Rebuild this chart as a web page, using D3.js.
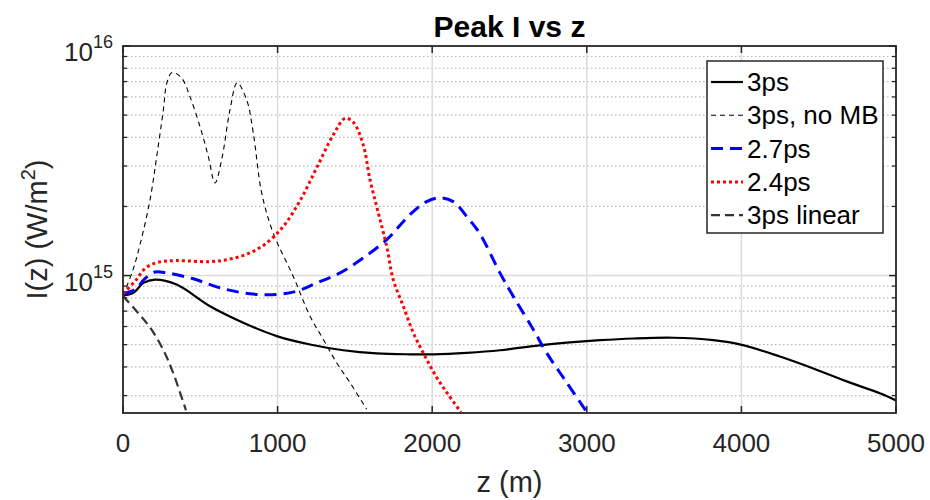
<!DOCTYPE html>
<html>
<head>
<meta charset="utf-8">
<script src="https://cdn.jsdelivr.net/npm/d3@7"></script>
<style>
  body { margin: 0; background: #fff; }
  svg { font-family: "Liberation Sans", Arial, Helvetica, sans-serif; }
</style>
</head>
<body>
<div id="chart"></div>
<script>

// values (z in m, I in W/m^2)
const xTicks = [0, 1000, 2000, 3000, 4000, 5000];
const yTicks = [1e15, 1e16];
const yTickExp = ['15', '16'];

const z_3ps = [0, 67, 132, 207, 347, 563, 778, 994, 1210, 1425, 1641, 1856, 2007, 2223, 2439,
               2654, 2870, 3085, 3301, 3559, 3818, 4002, 4249, 4465, 4681, 4896, 5000];
const i_3ps = [0.818, 0.841, 0.929, 0.961, 0.914, 0.735, 0.623, 0.545, 0.501, 0.473, 0.458, 0.454,
               0.454, 0.461, 0.473, 0.493, 0.510, 0.523, 0.532, 0.536, 0.523, 0.499, 0.444, 0.394,
               0.346, 0.307, 0.286].map(d => d * 1e15);

const z_noMB = [0, 65, 110, 175, 218, 261, 283, 317, 380, 433, 498, 552, 595, 638, 692, 739,
                800, 843, 897, 972, 1101, 1210, 1296, 1382, 1468, 1576];
const i_noMB = [0.818, 1.062, 1.364, 2.14, 3.30, 5.27, 6.88, 7.67, 7.24, 6.02, 4.46, 3.30, 2.53,
                3.19, 5.27, 6.92, 5.82, 4.17, 2.29, 1.53, 0.993, 0.665, 0.527, 0.417, 0.342,
                0.2615].map(d => d * 1e15);

const z_27ps = [0, 78, 142, 207, 272, 455, 627, 821, 994, 1124, 1253, 1404, 1554, 1706, 1856,
                1964, 2050, 2136, 2223, 2309, 2438, 2524, 2654, 2740, 2870, 3001];
const i_27ps = [0.835, 0.869, 0.970, 1.036, 1.030, 0.968, 0.884, 0.833, 0.827, 0.855, 0.929,
                1.027, 1.194, 1.434, 1.842, 2.10, 2.18, 2.10, 1.81, 1.52, 1.027, 0.813, 0.582,
                0.461, 0.342, 0.254].map(d => d * 1e15);

const z_24ps = [0, 78, 149, 233, 343, 563, 692, 821, 929, 1037, 1145, 1253, 1360, 1436, 1490,
                1554, 1598, 1651, 1706, 1748, 1813, 1878, 1953, 2029, 2102, 2186];
const i_24ps = [0.835, 0.946, 1.083, 1.145, 1.162, 1.150, 1.180, 1.255, 1.387, 1.638, 2.12, 2.95,
                4.10, 4.84, 4.65, 3.71, 2.61, 1.879, 1.337, 0.961, 0.735, 0.563, 0.446, 0.360,
                0.304, 0.254].map(d => d * 1e15);

const z_lin = [0, 84, 175, 259, 323, 407];
const i_lin = [0.814, 0.705, 0.594, 0.477, 0.379, 0.259].map(d => d * 1e15);

const series = [
  {name: '3ps',        z: z_3ps,  v: i_3ps,  color: '#000', width: 2.2, dash: null},
  {name: '3ps, no MB', z: z_noMB, v: i_noMB, color: '#000', width: 1.1, dash: '5,4'},
  {name: '2.7ps',      z: z_27ps, v: i_27ps, color: '#0000ff', width: 3, dash: '12,7'},
  {name: '2.4ps',      z: z_24ps, v: i_24ps, color: '#ff0000', width: 3, dash: '3,3'},
  {name: '3ps linear', z: z_lin,  v: i_lin,  color: '#333', width: 2.2, dash: '9,5'}
];

const W = 930, H = 500;
const m = {left: 123, right: 34, top: 46, bottom: 87};
const w = W - m.left - m.right, h = H - m.top - m.bottom;
const axisColor = '#262626';

const svg = d3.select('#chart').append('svg')
    .attr('width', W).attr('height', H);

const g = svg.append('g')
    .attr('transform', 'translate(' + m.left + ',' + m.top + ')');

const x = d3.scaleLinear().domain([0, 5000]).range([0, w]);
const y = d3.scaleLog().domain([2.52e14, 1e16]).range([h, 0]);

// minor values on the log axis
let minor = [];
[1e14, 1e15].forEach(dec => {
  for (let k = 2; k <= 9; k++) {
    let v = k * dec;
    if (v > y.domain()[0] && v < y.domain()[1]) minor.push(v);
  }
});

// grid
g.append('g').selectAll('line').data(minor).join('line')
    .attr('x1', 0).attr('x2', w)
    .attr('y1', d => y(d)).attr('y2', d => y(d))
    .attr('stroke', '#b8b8b8').attr('stroke-width', 1.2)
    .attr('stroke-dasharray', '1.5,2.5');

g.append('g').selectAll('line').data(xTicks.slice(1, -1)).join('line')
    .attr('x1', d => x(d)).attr('x2', d => x(d))
    .attr('y1', 0).attr('y2', h)
    .attr('stroke', '#dcdcdc').attr('stroke-width', 1.5);

g.append('line')
    .attr('x1', 0).attr('x2', w)
    .attr('y1', y(1e15)).attr('y2', y(1e15))
    .attr('stroke', '#dcdcdc').attr('stroke-width', 1.5);

// curves
g.append('clipPath').attr('id', 'clip')
  .append('rect').attr('width', w).attr('height', h);

const line = d3.line()
    .x(d => x(d[0]))
    .y(d => y(d[1]))
    .curve(d3.curveCatmullRom.alpha(0.5));

g.append('g').attr('clip-path', 'url(#clip)')
  .selectAll('path').data(series).join('path')
    .attr('d', s => line(s.z.map((z, i) => [z, s.v[i]])))
    .attr('fill', 'none')
    .attr('stroke', s => s.color)
    .attr('stroke-width', s => s.width)
    .attr('stroke-dasharray', s => s.dash);

// axes box + ticks
const ax = g.append('g').attr('stroke', axisColor);

ax.append('rect')
    .attr('width', w).attr('height', h)
    .attr('fill', 'none').attr('stroke-width', 1.8);

xTicks.forEach(t => {
  ax.append('line').attr('x1', x(t)).attr('x2', x(t)).attr('y1', h).attr('y2', h - 7).attr('stroke-width', 1.5);
  ax.append('line').attr('x1', x(t)).attr('x2', x(t)).attr('y1', 0).attr('y2', 7).attr('stroke-width', 1.5);
});
yTicks.forEach(t => {
  ax.append('line').attr('x1', 0).attr('x2', 7).attr('y1', y(t)).attr('y2', y(t)).attr('stroke-width', 1.5);
  ax.append('line').attr('x1', w).attr('x2', w - 7).attr('y1', y(t)).attr('y2', y(t)).attr('stroke-width', 1.5);
});
minor.forEach(t => {
  ax.append('line').attr('x1', 0).attr('x2', 4).attr('y1', y(t)).attr('y2', y(t)).attr('stroke-width', 1.3);
  ax.append('line').attr('x1', w).attr('x2', w - 4).attr('y1', y(t)).attr('y2', y(t)).attr('stroke-width', 1.3);
});

// tick labels
g.append('g').selectAll('text').data(xTicks).join('text')
    .attr('x', d => x(d)).attr('y', h + 39)
    .attr('text-anchor', 'middle')
    .attr('font-size', 26).attr('fill', axisColor)
    .text(d => d);

const yl = g.append('g').selectAll('text').data(yTicks).join('text')
    .attr('x', -10).attr('y', d => y(d) + 15)
    .attr('text-anchor', 'end')
    .attr('font-size', 26).attr('fill', axisColor);
yl.append('tspan').text('10');
yl.append('tspan').attr('dy', -13).attr('font-size', 18).text((d, i) => yTickExp[i]);

// labels
svg.append('text')
    .attr('x', m.left + w / 2).attr('y', 37)
    .attr('text-anchor', 'middle')
    .attr('font-size', 30).attr('font-weight', 'bold').attr('fill', '#000')
    .text('Peak I vs z');

svg.append('text')
    .attr('x', m.left + w / 2).attr('y', 492)
    .attr('text-anchor', 'middle')
    .attr('font-size', 29).attr('fill', axisColor)
    .text('z (m)');

const ylab = svg.append('text')
    .attr('transform', 'translate(47,' + (m.top + h / 2) + ') rotate(-90)')
    .attr('text-anchor', 'middle')
    .attr('font-size', 29).attr('fill', axisColor);
ylab.append('tspan').text('I(z) (W/m');
ylab.append('tspan').attr('dy', -12).attr('font-size', 20).text('2');
ylab.append('tspan').attr('dy', 12).text(')');

// legend
const lg = svg.append('g').attr('transform', 'translate(707,61)');
lg.append('rect')
    .attr('width', 176).attr('height', 172)
    .attr('fill', '#fff').attr('stroke', axisColor).attr('stroke-width', 1.5);

const item = lg.selectAll('g.item').data(series).join('g')
    .attr('class', 'item')
    .attr('transform', (d, i) => 'translate(0,' + (21 + i * 33.3) + ')');

item.append('line')
    .attr('x1', 4).attr('x2', 36).attr('y1', 0).attr('y2', 0)
    .attr('stroke', s => s.color)
    .attr('stroke-width', s => s.width)
    .attr('stroke-dasharray', s => s.dash);

item.append('text')
    .attr('x', 40).attr('y', 9)
    .attr('font-size', 26).attr('fill', '#000')
    .text(s => s.name);

</script>
</body>
</html>
